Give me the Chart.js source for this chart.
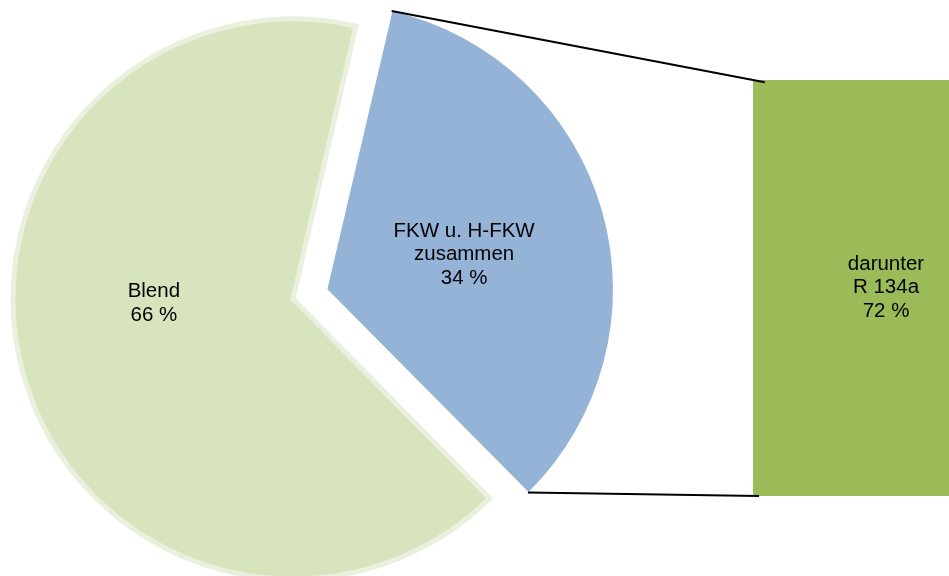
<!DOCTYPE html>
<html><head><meta charset="utf-8">
<script src="https://cdn.jsdelivr.net/npm/chart.js@4/dist/chart.umd.min.js"></script>
<style>
html,body{margin:0;padding:0;background:#fff;width:949px;height:576px;overflow:hidden;position:relative}
#pieWrap{position:absolute;left:0;top:0;width:949px;height:576px;z-index:2}
#barWrap{position:absolute;left:753px;top:80px;width:266px;height:416px;z-index:1}
canvas{display:block}
</style></head><body>
<div id="barWrap"><canvas id="bar" width="266" height="416"></canvas></div>
<div id="pieWrap"><canvas id="pie" width="949" height="576"></canvas></div>
<script>
// ---- data ----
const pieCategories = ['FKW u. H-FKW zusammen', 'Blend'];
const pieValues = [34, 66];
const pieLabelLines = [['FKW u. H-FKW', 'zusammen', '34 %'], ['Blend', '66 %']];
const barCategories = ['darunter R 134a'];
const barValues = [72];
const barLabelLines = [['darunter', 'R 134a', '72 %']];

const FONT = '20.5px "Liberation Sans", Arial, sans-serif';
const LINE_H = 23.8;

function drawLines(ctx, lines, cx, cy) {
  ctx.save();
  ctx.font = FONT;
  ctx.fillStyle = '#000';
  ctx.textAlign = 'center';
  ctx.textBaseline = 'alphabetic';
  const n = lines.length;
  lines.forEach((t, i) => {
    ctx.fillText(t, cx, cy + (i - (n - 1) / 2) * LINE_H + 7.3);
  });
  ctx.restore();
}

// ---- bar (second plot) ----
const barChart = new Chart(document.getElementById('bar'), {
  type: 'bar',
  data: {
    labels: barCategories,
    datasets: [{
      data: barValues,
      backgroundColor: '#9bbb59',
      borderWidth: 0,
      barPercentage: 1,
      categoryPercentage: 1
    }]
  },
  options: {
    responsive: false,
    animation: false,
    events: [],
    layout: { padding: 0 },
    scales: {
      x: { display: false },
      y: { display: false, min: 0, max: 72 }
    },
    plugins: { legend: { display: false }, tooltip: { enabled: false } }
  },
  plugins: [{
    id: 'barLabels',
    afterDatasetsDraw(chart) {
      const meta = chart.getDatasetMeta(0);
      meta.data.forEach((el, i) => {
        const p = el.getProps(['x', 'y', 'base']);
        drawLines(chart.ctx, barLabelLines[i], p.x, (p.y + p.base) / 2 - 2);
      });
    }
  }]
});

// ---- pie ----
const labelFrac = [0.505, 0.497];
const labelShiftDeg = [1.0, 14.8];

new Chart(document.getElementById('pie'), {
  type: 'pie',
  data: {
    labels: pieCategories,
    datasets: [{
      data: pieValues,
      backgroundColor: ['#95b3d7', '#d7e4bd'],
      borderColor: ['#95b3d7', '#eaf0dd'],
      borderWidth: [0, 5],
      borderJoinStyle: 'miter',
      offset: [143, 0]
    }]
  },
  options: {
    responsive: false,
    animation: false,
    events: [],
    rotation: 13,
    radius: 280,
    layout: { padding: { left: 0, right: 363, top: 22, bottom: 0 } },
    plugins: { legend: { display: false }, tooltip: { enabled: false } }
  },
  plugins: [{
    id: 'pieExtras',
    afterDatasetsDraw(chart) {
      const ctx = chart.ctx;
      const meta = chart.getDatasetMeta(0);
      const centers = meta.data.map(arc => {
        const p = arc.getProps(['x', 'y', 'startAngle', 'endAngle', 'outerRadius', 'circumference']);
        const off = (arc.options.offset || 0) / 4;
        const mid = (p.startAngle + p.endAngle) / 2;
        const fix = 1 - Math.sin(Math.min(Math.PI, p.circumference || 0));
        return {
          cx: p.x + Math.cos(mid) * off,
          cy: p.y + Math.sin(mid) * off,
          r: p.outerRadius + off * fix,
          s: p.startAngle, e: p.endAngle, mid, R: p.outerRadius
        };
      });
      // labels
      centers.forEach((c, i) => {
        const a = c.mid + labelShiftDeg[i] * Math.PI / 180;
        const d = c.R * labelFrac[i];
        drawLines(ctx, pieLabelLines[i], c.cx + Math.cos(a) * d, c.cy + Math.sin(a) * d);
      });
      // connector lines from exploded slice to bar
      const wrap = document.getElementById('barWrap');
      const bEl = barChart.getDatasetMeta(0).data[0].getProps(['x', 'y', 'base', 'width']);
      const bx = wrap.offsetLeft + bEl.x - bEl.width / 2;
      const byTop = wrap.offsetTop + bEl.y;
      const byBot = wrap.offsetTop + bEl.base;
      const c = centers[0];
      const p1 = [c.cx + Math.cos(c.s) * c.r, c.cy + Math.sin(c.s) * c.r];
      const p2 = [c.cx + Math.cos(c.e) * c.r, c.cy + Math.sin(c.e) * c.r];
      ctx.save();
      ctx.strokeStyle = '#000';
      ctx.lineWidth = 2;
      const seg = (a, bxx, byy, ext) => {
        const dx = bxx - a[0], dy = byy - a[1];
        const len = Math.hypot(dx, dy);
        ctx.beginPath();
        ctx.moveTo(a[0], a[1]);
        ctx.lineTo(bxx + dx / len * ext, byy + dy / len * ext);
        ctx.stroke();
      };
      seg(p1, bx, byTop, 12);
      seg(p2, bx, byBot, 6);
      ctx.restore();
    }
  }]
});
</script>
</body></html>
